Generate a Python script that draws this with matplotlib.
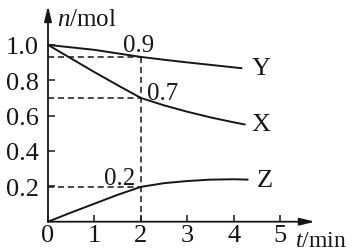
import numpy as np
import matplotlib.pyplot as plt

plt.rcParams['font.family'] = 'Liberation Serif'
plt.rcParams['mathtext.fontset'] = 'custom'
plt.rcParams['mathtext.rm'] = 'Liberation Serif'
plt.rcParams['mathtext.it'] = 'Liberation Serif:italic'

ink = '#161616'

# curves (t in min, n in mol)
t_Y = [0, 0.5, 1, 1.5, 2, 2.5, 3, 3.5, 4, 4.17]
n_Y = [1.0, 0.986, 0.972, 0.952, 0.932, 0.916, 0.901, 0.887, 0.873, 0.868]

t_X = [0, 0.5, 1, 1.5, 2, 2.5, 3, 3.5, 4, 4.24]
n_X = [1.0, 0.923, 0.846, 0.772, 0.70, 0.658, 0.622, 0.59, 0.562, 0.55]

t_Z = [0, 0.5, 1, 1.5, 2, 2.5, 3, 3.5, 4, 4.3]
n_Z = [0, 0.052, 0.102, 0.152, 0.197, 0.218, 0.23, 0.238, 0.24, 0.238]

t_mark = 2
labels_mark = ['0.9', '0.7', '0.2']
names = ['Y', 'X', 'Z']

xticks = [0, 1, 2, 3, 4, 5]
yticks = [0.2, 0.4, 0.6, 0.8, 1.0]

fig = plt.figure(figsize=(3.56, 2.51), dpi=100)
ax = fig.add_axes([48/356, 28.3/251, 267/356, 215.7/251])
ax.set_xlim(0, 5.75)
ax.set_ylim(0, 1.22)
for s in ax.spines.values():
    s.set_visible(False)

# axes with arrow heads
arr = dict(arrowstyle='-|>,head_length=0.9,head_width=0.22', lw=1.3, color=ink,
           shrinkA=0, shrinkB=0)
ax.annotate('', xy=(1, 0), xytext=(0, 0), xycoords='axes fraction',
            arrowprops=arr, annotation_clip=False)
ax.annotate('', xy=(0, 1), xytext=(0, 0), xycoords='axes fraction',
            arrowprops=arr, annotation_clip=False)

for t, n in [(t_Y, n_Y), (t_X, n_X), (t_Z, n_Z)]:
    ax.plot(t, n, color=ink, lw=1.4, solid_capstyle='round', clip_on=False)

# dashed guides at t = 2
vals = [np.interp(t_mark, t_Y, n_Y), np.interp(t_mark, t_X, n_X), np.interp(t_mark, t_Z, n_Z)]
for v in vals:
    ax.plot([0, t_mark], [v, v], color=ink, lw=1.1, dashes=(4, 2.5))
ax.plot([t_mark, t_mark], [0, vals[0]], color=ink, lw=1.1, dashes=(4, 2.5))

ax.set_xticks(xticks)
ax.set_xticklabels([str(x) for x in xticks])
ax.set_yticks(yticks)
ax.set_yticklabels(['%.1f' % y for y in yticks])
ax.tick_params(direction='in', length=5, width=1.1, color=ink, labelcolor=ink,
               labelsize=19)
ax.tick_params(axis='x', pad=2)
ax.tick_params(axis='y', pad=6.5)

fs = 18
ax.text(1.61, 0.965, labels_mark[0], fontsize=fs, color=ink, va='baseline')
ax.text(2.13, 0.693, labels_mark[1], fontsize=fs, color=ink, va='baseline')
ax.text(1.2, 0.213, labels_mark[2], fontsize=fs, color=ink, va='baseline')

ax.text(4.39, n_Y[-1], names[0], fontsize=19, color=ink, va='center')
ax.text(4.39, n_X[-1], names[1], fontsize=19, color=ink, va='center')
ax.text(4.49, n_Z[-1], names[2], fontsize=19, color=ink, va='center')

ax.text(0.19, 1.11, '$n$/mol', fontsize=18, color=ink, va='baseline')
ax.text(5.31, -0.137, '$t$/min', fontsize=17, color=ink, va='baseline', clip_on=False)

fig.savefig('out.png', dpi=100)
